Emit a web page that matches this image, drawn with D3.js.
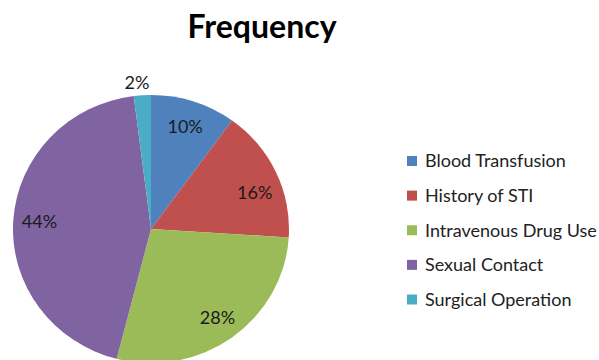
<!DOCTYPE html>
<html><head><meta charset="utf-8">
<script src="https://cdn.jsdelivr.net/npm/d3@7"></script>
<style>html,body{margin:0;padding:0;background:#fff;}svg{display:block;}</style>
</head><body>
<svg id="chart" width="599" height="360"></svg>
<script>
const title = "Frequency";
const categories = ["Blood Transfusion", "History of STI", "Intravenous Drug Use", "Sexual Contact", "Surgical Operation"];
const values = [10, 16, 28, 44, 2];
const labels = ["10%", "16%", "28%", "44%", "2%"];
const colors = ["#4F81BD", "#C0504D", "#9BBB59", "#8064A2", "#4BACC6"];

const svg = d3.select("#chart");
const font = "Lato, 'Open Sans', sans-serif";
const cx = 151, cy = 229, rx = 138, ry = 134;

svg.append("text").attr("x", 262).attr("y", 38).attr("text-anchor", "middle")
  .attr("font-family", font).attr("font-weight", "bold").attr("font-size", 32)
  .attr("fill", "#000").text(title);

const pie = d3.pie().sort(null).value(d => d);
const arcs = pie(values);
const arc = d3.arc().innerRadius(0).outerRadius(rx);
const color = d3.scaleOrdinal().domain(categories).range(colors);

const g = svg.append("g").attr("transform", `translate(${cx},${cy}) scale(1,${ry/rx})`);
g.selectAll("path").data(arcs).join("path")
  .attr("d", arc).attr("fill", (d, i) => color(categories[i]));

const labelR = [0.8, 0.8, 0.82, 0.81, 1.1];
const labelTurn = [0, 0.09, 0, 0, -0.03];
const mid = (d, i) => (d.startAngle + d.endAngle) / 2 + labelTurn[i];
svg.append("g").selectAll("text").data(arcs).join("text")
  .attr("x", (d, i) => cx + Math.sin(mid(d, i)) * rx * labelR[i])
  .attr("y", (d, i) => cy - Math.cos(mid(d, i)) * ry * labelR[i])
  .attr("dy", "0.35em").attr("text-anchor", "middle")
  .attr("font-family", font).attr("font-size", 18).attr("fill", "#1a1a1a")
  .text((d, i) => labels[i]);

const y = d3.scalePoint().domain(categories).range([161, 299.5]);
const leg = svg.append("g").selectAll("g").data(categories).join("g")
  .attr("transform", d => `translate(407,${y(d)})`);
leg.append("rect").attr("x", 0).attr("y", -5).attr("width", 10).attr("height", 10)
  .attr("fill", d => color(d));
leg.append("text").attr("x", 18).attr("y", 0).attr("dy", "0.35em")
  .attr("font-family", font).attr("font-size", 18).attr("fill", "#222").text(d => d);
</script>
</body></html>
